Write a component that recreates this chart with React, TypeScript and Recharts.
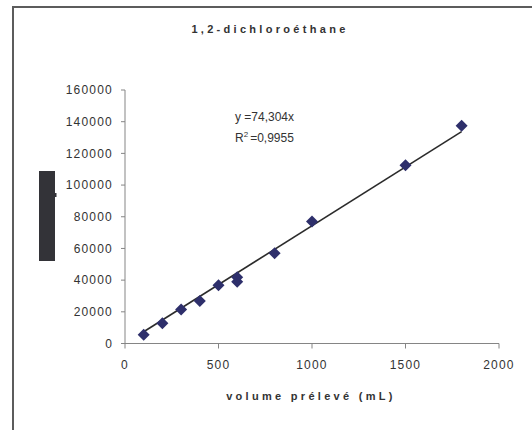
import { ScatterChart, Scatter, XAxis, YAxis, ReferenceLine, Customized } from "recharts";

// volume prélevé (mL) vs. peak area
const volumes = [100, 200, 300, 400, 500, 600, 600, 800, 1000, 1500, 1800];
const areas = [5500, 12800, 21500, 26800, 36800, 38900, 41800, 57000, 77000, 112500, 137500];
const xTicks = [0, 500, 1000, 1500, 2000];
const yTicks = [0, 20000, 40000, 60000, 80000, 100000, 120000, 140000, 160000];
// linear trendline y = 74,304x across the measured range
const trendX = [100, 1800];
const trendY = [7430, 133747];

const points = volumes.map((v, i) => ({ x: v, y: areas[i] }));

const FONT = '"Liberation Sans", Arial, sans-serif';
const MARKER = "#2E2F6B";
const AXIS = "#858585";
const TEXT = "#333333";

function Diamond(props: any) {
  const { cx, cy } = props;
  const r = 6;
  return (
    <polygon
      points={`${cx},${cy - r} ${cx + r},${cy} ${cx},${cy + r} ${cx - r},${cy}`}
      fill={MARKER}
    />
  );
}

function Decorations() {
  return (
    <g fontFamily={FONT}>
      <text x={270} y={33} textAnchor="middle" fontSize={11} fontWeight="bold" letterSpacing={3.3} fill={TEXT}>
        1,2-dichloroéthane
      </text>
      <text x={311} y={400} textAnchor="middle" fontSize={11} fontWeight="bold" letterSpacing={3.3} fill={TEXT}>
        volume prélevé (mL)
      </text>
      <text x={235} y={121} fontSize={12} fill={TEXT}>
        y =74,304x
      </text>
      <text x={235} y={141.5} fontSize={12} fill={TEXT}>
        R<tspan fontSize={8} dy={-5}>2</tspan>
        <tspan dy={5} dx={2}>=0,9955</tspan>
      </text>
      <rect x={39} y={171} width={16} height={90} fill="#333338" />
      <rect x={55} y={193} width={1.5} height={4} fill="#333338" />
    </g>
  );
}

export default function App() {
  return (
    <div
      style={{
        position: "absolute",
        left: 0,
        top: 0,
        width: 532,
        height: 430,
        overflow: "hidden",
        background: "#fff",
      }}
    >
      <div
        style={{
          position: "absolute",
          left: 12,
          top: 6,
          width: 600,
          height: 500,
          borderLeft: "2px solid #5c5c5c",
          borderTop: "2px solid #5c5c5c",
        }}
      />
      <div style={{ position: "absolute", left: 0, top: 0 }}>
        <ScatterChart width={532} height={430} margin={{ top: 90, right: 33, bottom: 0, left: 0 }}>
          <XAxis
            type="number"
            dataKey="x"
            domain={[0, 2000]}
            ticks={xTicks}
            height={86.5}
            stroke={AXIS}
            tickSize={5}
            tickMargin={12}
            tick={{ fill: TEXT, fontSize: 12, fontFamily: FONT, letterSpacing: 1.2 }}
          />
          <YAxis
            type="number"
            dataKey="y"
            domain={[0, 160000]}
            ticks={yTicks}
            width={125}
            stroke={AXIS}
            tickSize={4}
            tickMargin={8}
            tick={{ fill: TEXT, fontSize: 12, fontFamily: FONT, letterSpacing: 1.2 }}
          />
          <ReferenceLine
            segment={[
              { x: trendX[0], y: trendY[0] },
              { x: trendX[1], y: trendY[1] },
            ]}
            stroke="#2b2b2b"
            strokeWidth={1.6}
          />
          <Scatter data={points} shape={<Diamond />} isAnimationActive={false} />
          <Customized component={<Decorations />} />
        </ScatterChart>
      </div>
    </div>
  );
}
